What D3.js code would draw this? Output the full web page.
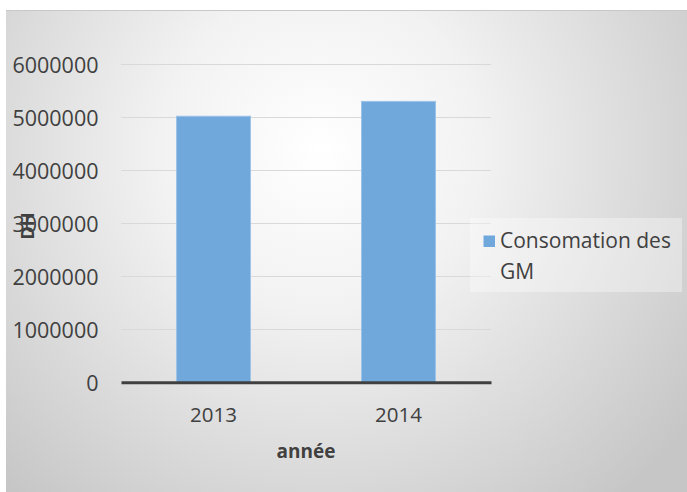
<!DOCTYPE html>
<html><head><meta charset="utf-8">
<script src="https://cdn.jsdelivr.net/npm/d3@7"></script>
<style>html,body{margin:0;padding:0;background:#fff;}svg{display:block;}</style>
</head><body>
<svg id="c" width="687" height="492"></svg>
<script>
const categories = ["2013", "2014"];
const values = [5020000, 5300000];
const yTicks = [0, 1000000, 2000000, 3000000, 4000000, 5000000, 6000000];
const seriesName = ["Consomation des", "GM"];
const xTitle = "année";
const yTitle = "DH";

const FONT = "'Open Sans', 'Noto Sans', sans-serif";
const svg = d3.select("#c");
const defs = svg.append("defs");
const rg = defs.append("radialGradient").attr("id","bg")
  .attr("gradientUnits","userSpaceOnUse").attr("cx",320).attr("cy",150).attr("r",460);
rg.append("stop").attr("offset","0").attr("stop-color","#ffffff");
rg.append("stop").attr("offset","0.35").attr("stop-color","#f2f2f2");
rg.append("stop").attr("offset","1").attr("stop-color","#c6c6c6");

svg.append("rect").attr("x",6).attr("y",10).attr("width",681).attr("height",482).attr("fill","url(#bg)");
svg.append("line").attr("x1",6).attr("x2",687).attr("y1",10.5).attr("y2",10.5).attr("stroke","#c8c8c8").attr("stroke-width",1);

const pLeft = 121, pRight = 491, pBottom = 382.3;
const y = d3.scaleLinear().domain([0, 6000000]).range([pBottom, pBottom - 6*53]);
const x = d3.scaleBand().domain(categories).range([pLeft, pRight]).paddingInner(0.6).paddingOuter(0.3);

// gridlines
svg.append("g").selectAll("line").data(yTicks.filter(d=>d>0)).join("line")
  .attr("x1",pLeft).attr("x2",pRight)
  .attr("y1",d=>Math.round(y(d))+0.5).attr("y2",d=>Math.round(y(d))+0.5)
  .attr("stroke","#d9d9d9").attr("stroke-width",1.2);

// y axis labels
const yAxis = d3.axisLeft(y).tickValues(yTicks).tickSize(0).tickPadding(0).tickFormat(d3.format("d"));
const gy = svg.append("g").attr("transform",`translate(98.5,0)`).call(yAxis);
gy.select(".domain").remove();
gy.selectAll("text").attr("font-family",FONT).attr("font-size",21.5).attr("fill","#404040").attr("dy","0.39em");

// bars
svg.append("g").selectAll("rect").data(values).join("rect")
  .attr("x",(d,i)=>x(categories[i]))
  .attr("y",d=>y(d))
  .attr("width",x.bandwidth())
  .attr("height",d=>pBottom - y(d))
  .attr("fill","#70a8dc").attr("stroke","#9cc3e8").attr("stroke-width",1);

// x axis
const xAxis = d3.axisBottom(x).tickSize(0);
const gx = svg.append("g").attr("transform",`translate(0,${pBottom})`).call(xAxis);
gx.select(".domain").attr("stroke","#404040").attr("stroke-width",3);
gx.selectAll("text").attr("font-family",FONT).attr("font-size",20.5).attr("fill","#404040")
  .attr("y",39.4).attr("dy",0);

// x title
svg.append("text").attr("x",306).attr("y",458).attr("text-anchor","middle")
  .attr("font-family",FONT).attr("font-weight","bold")
  .attr("font-size",19).attr("fill","#404040").text(xTitle);

// y title
svg.append("text").attr("transform","translate(33.5,226) rotate(-90)").attr("text-anchor","middle")
  .attr("font-family",FONT).attr("font-weight","bold")
  .attr("font-size",18).attr("fill","#404040").text(yTitle);

// legend
const lg = svg.append("g");
lg.append("rect").attr("x",470).attr("y",218).attr("width",212).attr("height",74)
  .attr("fill","#ffffff").attr("fill-opacity",0.35);
lg.append("rect").attr("x",483.5).attr("y",235.5).attr("width",11.5).attr("height",11.5).attr("fill","#70a8dc");
lg.selectAll("text.l").data(seriesName).join("text").attr("class","l")
  .attr("x",500).attr("y",(d,i)=>247.5 + i*31)
  .attr("font-family",FONT).attr("font-size",21).attr("fill","#404040").text(d=>d);
</script>
</body></html>
